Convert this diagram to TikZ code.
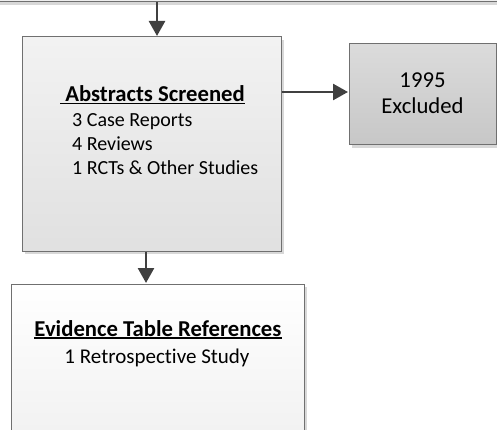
\documentclass[tikz,border=0pt]{standalone}
\usepackage{fontspec}
\setmainfont[Ligatures=NoCommon]{Carlito}
\usetikzlibrary{arrows.meta,shadows,calc}
\definecolor{edge}{HTML}{707070}
\definecolor{arrowc}{HTML}{404040}
\definecolor{shad}{HTML}{D8D8D8}
\newcommand\myul[1]{\setbox0\hbox{#1}\rlap{\rule[-2.6pt]{\wd0}{1.4pt}}\box0}
\tikzset{
  boxbase/.style={draw=edge, line width=1pt, rectangle, inner sep=0pt,
    general shadow={fill=shad, shadow xshift=3pt, shadow yshift=-3pt}},
  lightbox/.style={boxbase, top color=white, bottom color=white!93!black},
  midbox/.style={boxbase, top color=white!95!black, bottom color=white!88!black},
  darkbox/.style={boxbase, top color=white!86!black, bottom color=white!78!black},
  arr/.style={draw=arrowc, line width=2.6pt, -{Triangle[length=15pt,width=16pt]}, shorten >=0.5pt},
  txt/.style={font=\fontsize{20}{24}\selectfont, inner sep=0pt, anchor=base, text=black},
  bigtxt/.style={txt, font=\fontsize{22.7}{27}\selectfont},
}
\begin{document}
\begin{tikzpicture}[x=1pt,y=-1pt]
\useasboundingbox (0,0) rectangle (497,430);
\clip (0,0) rectangle (497,430);
% boxes
\node[lightbox, minimum width=517pt, minimum height=62pt] (top) at (248.5,-29) {};
\node[midbox, minimum width=259pt, minimum height=214pt] (abs) at (151.5,144) {};
\node[darkbox, minimum width=147pt, minimum height=101pt] (exc) at (422.5,94.5) {};
\node[lightbox, minimum width=293pt, minimum height=200pt] (evid) at (157.5,384) {};
% texts
\node[bigtxt, anchor=base west] (absT) at (60,101.5) {\myul{\bfseries\ Abstracts Screened}};
\node[txt, anchor=base west] (absL1) at (72,127) {3 Case Reports};
\node[txt, anchor=base west] (absL2) at (72,151) {4 Reviews};
\node[txt, anchor=base west] (absL3) at (72,175) {1 RCTs \& Other Studies};
\node[bigtxt] (excT1) at (422.5,88) {1995};
\node[bigtxt] (excT2) at (422.5,114) {Excluded};
\node[bigtxt] (evT) at (158,336) {\myul{\bfseries Evidence Table References}};
\node[txt, font=\fontsize{21}{25}\selectfont] (evL1) at (157,363.3) {1 Retrospective Study};
% connectors
\draw[arr] (top.south -| 157,0) -- (abs.north -| 157,0);
\draw[arr] (abs.east |- 0,92) -- (exc.west |- 0,92);
\draw[arr] (abs.south -| 146,0) -- (evid.north -| 146,0);
\end{tikzpicture}
\end{document}
